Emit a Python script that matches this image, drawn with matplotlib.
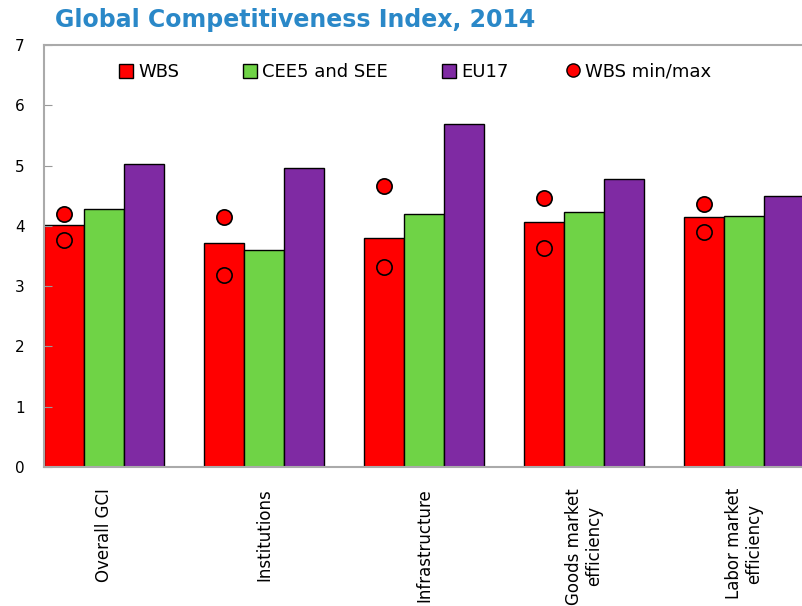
import matplotlib
matplotlib.use('Agg')
from matplotlib import pyplot as plt
from matplotlib.patches import Patch
from matplotlib.lines import Line2D
import numpy as np

# Global Competitiveness Index, 2014
categories = ['Overall GCI', 'Institutions', 'Infrastructure',
              'Goods market\nefficiency', 'Labor market\nefficiency']
wbs = [4.01, 3.71, 3.80, 4.06, 4.15]
cee_see = [4.28, 3.60, 4.20, 4.23, 4.17]
eu17 = [5.02, 4.96, 5.69, 4.78, 4.49]
wbs_max = [4.20, 4.15, 4.66, 4.46, 4.37]
wbs_min = [3.76, 3.18, 3.32, 3.63, 3.89]

red = '#ff0000'
green = '#6fd346'
purple = '#7f2aa3'

fig = plt.figure(figsize=(8.02, 6.06), dpi=100)
# axes runs past the right edge, like the cropped original
ax = fig.add_axes([44 / 802, 1 - 467 / 606, 800 / 802, 422 / 606])

x = np.arange(len(categories)) * 4
ax.bar(x, wbs, width=1, color=red, edgecolor='black', linewidth=1)
ax.bar(x + 1, cee_see, width=1, color=green, edgecolor='black', linewidth=1)
ax.bar(x + 2, eu17, width=1, color=purple, edgecolor='black', linewidth=1)
ax.plot(x, wbs_max, 'o', color=red, markeredgecolor='black', markersize=11, markeredgewidth=1.2)
ax.plot(x, wbs_min, 'o', color=red, markeredgecolor='black', markersize=11, markeredgewidth=1.2)

ax.set_xlim(-0.5, 19.5)
ax.set_ylim(0, 7)
ax.set_yticks(range(8))
ax.tick_params(axis='y', direction='in', length=6, color='#999999', labelsize=11, pad=14)
ax.set_xticks(x + 1)
ax.set_xticklabels(categories, rotation=90, fontsize=12, va='top', ha='center')
ax.tick_params(axis='x', length=0, pad=15)
for s in ax.spines.values():
    s.set_color('#aaaaaa')
    s.set_linewidth(1.5)

handles = [Patch(facecolor=red, edgecolor='black', label='WBS'),
           Patch(facecolor=green, edgecolor='black', label='CEE5 and SEE'),
           Patch(facecolor=purple, edgecolor='black', label='EU17'),
           Line2D([], [], marker='o', color=red, markeredgecolor='black', linestyle='none',
                  markersize=9.5, label='WBS min/max')]
legend_x = [119, 243, 442, 566]
for h, lx in zip(handles, legend_x):
    leg = fig.legend(handles=[h], frameon=False, fontsize=13, loc='center left',
                     bbox_to_anchor=(lx / 802, 1 - 72 / 606), borderpad=0, borderaxespad=0,
                     handlelength=0.8, handleheight=0.8, handletextpad=0.25)

fig.text(55 / 802, 1 - 20 / 606, 'Global Competitiveness Index, 2014', fontsize=17,
         fontweight='bold', color='#2a88c8', va='center', ha='left')

fig.savefig('out.png', dpi=100)
